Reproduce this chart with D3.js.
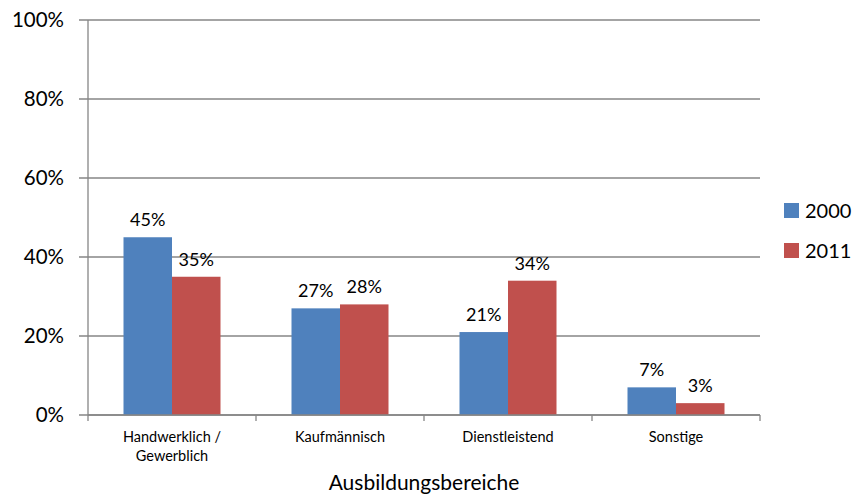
<!DOCTYPE html>
<html>
<head>
<meta charset="utf-8">
<script src="https://cdn.jsdelivr.net/npm/d3@7"></script>
<style>
  body { margin: 0; background: #fff; }
  text { font-family: Lato, "Open Sans", sans-serif; fill: #000; }
</style>
</head>
<body>
<main></main>
<script>
let svgWidth  = 857;
let svgHeight = 499;

const categories = ['Handwerklich / Gewerblich', 'Kaufmännisch', 'Dienstleistend', 'Sonstige'];
const categoryLines = [['Handwerklich /', 'Gewerblich'], ['Kaufmännisch'], ['Dienstleistend'], ['Sonstige']];
const seriesNames = ['2000', '2011'];
const values2000 = [45, 27, 21, 7];
const values2011 = [35, 28, 34, 3];
const yTicks = [0, 20, 40, 60, 80, 100];
const colors = ['#4F81BD', '#C0504D'];

let plot = { left: 88, right: 760, top: 20, bottom: 415 };

let svg = d3.select('body main')
  .append('svg')
  .attr('width', svgWidth)
  .attr('height', svgHeight);

let x = d3.scaleBand()
  .domain(categories)
  .range([plot.left, plot.right])
  .padding(0);

let gap = 35.5;
let xInner = d3.scaleBand()
  .domain(seriesNames)
  .range([gap, x.bandwidth() - gap])
  .padding(0);

let y = d3.scaleLinear()
  .domain([0, 100])
  .range([plot.bottom, plot.top]);

// gridlines
svg.append('g')
  .selectAll('line')
  .data(yTicks)
  .enter()
  .append('line')
    .attr('x1', plot.left - 9)
    .attr('x2', plot.right)
    .attr('y1', d => y(d))
    .attr('y2', d => y(d))
    .attr('stroke', '#868686')
    .attr('stroke-width', 1.3)
;

// y tick labels
svg.append('g')
  .selectAll('text')
  .data(yTicks)
  .enter()
  .append('text')
    .attr('x', 64)
    .attr('y', d => y(d))
    .attr('dy', '0.36em')
    .attr('text-anchor', 'end')
    .attr('font-size', '20.5px')
    .text(d => d + '%')
;

let data = [];
categories.forEach((c, i) => {
  data.push({ cat: c, series: '2000', value: values2000[i], color: colors[0] });
  data.push({ cat: c, series: '2011', value: values2011[i], color: colors[1] });
});

// bars
svg.append('g')
  .selectAll('rect')
  .data(data)
  .enter()
  .append('rect')
    .attr('x', d => x(d.cat) + xInner(d.series))
    .attr('y', d => y(d.value))
    .attr('width', xInner.bandwidth())
    .attr('height', d => y(0) - y(d.value))
    .attr('fill', d => d.color)
;

// value labels
svg.append('g')
  .selectAll('text')
  .data(data)
  .enter()
  .append('text')
    .attr('x', d => x(d.cat) + xInner(d.series) + xInner.bandwidth() / 2)
    .attr('y', d => y(d.value) - 11)
    .attr('text-anchor', 'middle')
    .attr('font-size', '18px')
    .text(d => d.value + '%')
;

// axes lines
svg.append('line')
  .attr('x1', plot.left).attr('x2', plot.left)
  .attr('y1', plot.top).attr('y2', plot.bottom)
  .attr('stroke', '#868686').attr('stroke-width', 1.3);

svg.append('line')
  .attr('x1', plot.left).attr('x2', plot.right)
  .attr('y1', plot.bottom).attr('y2', plot.bottom)
  .attr('stroke', '#868686').attr('stroke-width', 1.3);

// bottom ticks at category boundaries
let boundaries = categories.map(c => x(c)).concat([plot.right]);
svg.append('g')
  .selectAll('line')
  .data(boundaries)
  .enter()
  .append('line')
    .attr('x1', d => d).attr('x2', d => d)
    .attr('y1', plot.bottom).attr('y2', plot.bottom + 6)
    .attr('stroke', '#868686').attr('stroke-width', 1.3)
;

// category labels
let catLabels = svg.append('g')
  .selectAll('text')
  .data(categories)
  .enter()
  .append('text')
    .attr('text-anchor', 'middle')
    .attr('font-size', '14.5px')
;
catLabels.each(function(c, i) {
  let t = d3.select(this);
  categoryLines[i].forEach((line, j) => {
    t.append('tspan')
      .attr('x', x(c) + x.bandwidth() / 2)
      .attr('y', 442 + j * 19)
      .text(line);
  });
});

// axis title
svg.append('text')
  .attr('x', (plot.left + plot.right) / 2)
  .attr('y', 490)
  .attr('text-anchor', 'middle')
  .attr('font-size', '21px')
  .text('Ausbildungsbereiche');

// legend
let legend = svg.append('g')
  .selectAll('g')
  .data(seriesNames)
  .enter()
  .append('g')
    .attr('transform', (d, i) => 'translate(784,' + (203 + i * 40) + ')')
;
legend.append('rect')
  .attr('width', 15)
  .attr('height', 15)
  .attr('fill', (d, i) => colors[i]);
legend.append('text')
  .attr('x', 21)
  .attr('y', 7.5)
  .attr('dy', '0.36em')
  .attr('font-size', '20px')
  .text(d => d);
</script>
</body>
</html>
